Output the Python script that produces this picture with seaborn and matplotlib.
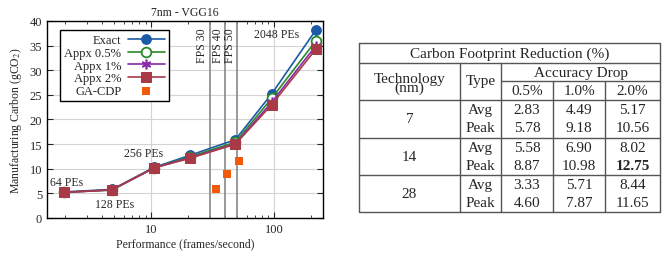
import matplotlib
matplotlib.use('Agg')
import matplotlib.pyplot as plt
import seaborn as sns
import numpy as np
from matplotlib.ticker import LogLocator, FixedFormatter, FixedLocator

# --- chart data ---
fps = [1.95, 4.8, 10.6, 20.5, 48.4, 95.6, 219]
exact = [5.3, 5.8, 10.3, 12.7, 15.9, 25.2, 38.2]
appx_05 = [5.2, 5.7, 10.2, 12.4, 15.4, 24.3, 36.0]
appx_1 = [5.2, 5.7, 10.2, 12.2, 15.1, 23.5, 35.0]
appx_2 = [5.2, 5.7, 10.2, 12.1, 15.0, 23.0, 34.3]
ga_fps = [33.6, 41.5, 52.2]
ga_carbon = [5.8, 8.9, 11.5]
fps_targets = [30, 40, 50]
pe_labels = ['64 PEs', '128 PEs', '256 PEs', '2048 PEs']
pe_label_pos = [(2.05, 7.4), (5.0, 2.9), (8.6, 13.2), (104, 37.4)]

# --- table data ---
tech = ['7', '14', '28']
acc_drop = ['0.5%', '1.0%', '2.0%']
avg_red = [[2.83, 4.49, 5.17], [5.58, 6.90, 8.02], [3.33, 5.71, 8.44]]
peak_red = [[5.78, 9.18, 10.56], [8.87, 10.98, 12.75], [4.60, 7.87, 11.65]]

sns.set_style('ticks')
plt.rcParams['font.family'] = ['Liberation Serif', 'DejaVu Serif']
plt.rcParams['mathtext.fontset'] = 'stix'

W, H = 671, 255
f = plt.figure(figsize=(W / 100, H / 100), dpi=100)
ax = f.add_axes([47 / W, 1 - 219 / H, 276 / W, 197 / H])

ax.grid(True, which='major', color='#d4d4d4', lw=0.8)
ax.set_axisbelow(True)

for xv in fps_targets:
    ax.axvline(xv, color='#888888', lw=1.2, zorder=1)
    ax.text(xv * 0.975, 38.7, 'FPS {}'.format(xv), rotation=90, ha='right',
            va='top', fontsize=8.5)

series = [
    ('Exact', exact, '#1a5aa6', dict(marker='o', markersize=7)),
    ('Appx 0.5%', appx_05, '#2a8a2a', dict(marker='o', markersize=7, markerfacecolor='white',
                                           markeredgewidth=1.3)),
    ('Appx 1%', appx_1, '#8a2aa8', dict(marker=(6, 2, 0), markersize=7, markeredgewidth=1.2)),
    ('Appx 2%', appx_2, '#a83a48', dict(marker='s', markersize=7.5)),
]
for name, vals, col, kw in series:
    sns.lineplot(x=fps, y=vals, ax=ax, color=col, lw=1.2, label=name, zorder=3,
                 markeredgecolor=col, **kw)

sns.scatterplot(x=ga_fps, y=ga_carbon, ax=ax, color='#f05a0a', marker='s', s=40,
                linewidth=0, label='GA-CDP', zorder=4)

for txt, (xx, yy) in zip(pe_labels, pe_label_pos):
    ax.text(xx, yy, txt, fontsize=8.5, ha='center', va='center')

ax.set_xscale('log')
ax.set_xlim(1.42, 250)
ax.set_ylim(0, 40)
ax.set_yticks(range(0, 41, 5))
ax.xaxis.set_major_locator(FixedLocator([10, 100]))
ax.xaxis.set_major_formatter(FixedFormatter(['10', '100']))
ax.xaxis.set_minor_locator(LogLocator(base=10, subs=np.arange(2, 10)))
ax.xaxis.set_minor_formatter(FixedFormatter([]))
ax.tick_params(which='both', direction='in', top=True, right=True, labelsize=9, length=4)
ax.tick_params(which='minor', length=2)
for sp in ax.spines.values():
    sp.set_color('black')
    sp.set_linewidth(1.0)
ax.set_title('7nm - VGG16', fontsize=8.5, pad=4)
ax.set_xlabel('Performance (frames/second)', fontsize=8.5, labelpad=2)
ax.set_ylabel('Manufacturing Carbon (gCO$_2$)', fontsize=8.5, labelpad=4)

leg = ax.legend(loc='upper left', bbox_to_anchor=(0.047, 0.954), borderaxespad=0,
                markerfirst=False, fancybox=False, edgecolor='black', fontsize=9,
                handlelength=3.0, handletextpad=0.5, borderpad=0.35, labelspacing=0.05,
                framealpha=1, markerscale=1.0)
leg.get_frame().set_linewidth(1.0)
for t in leg.get_texts():
    t.set_ha('right')
leg._legend_box.align = 'right'

# --- table drawn in pixel coordinates ---
tx = f.add_axes([0, 0, 1, 1])
tx.set_xlim(0, W)
tx.set_ylim(H, 0)
tx.axis('off')
L, R, T, B = 359, 660, 44, 213
c1, c2 = 460, 501
cols = [501, 553, 605, 660]
r_title, r_acc, r_head = 63.5, 82, 101
r_groups = [101, 138.5, 176, 213]
lc = dict(color='#555555', lw=1.0)
tx.plot([L, R, R, L, L], [T, T, B, B, T], **lc)
tx.plot([L, R], [r_title, r_title], **lc)
tx.plot([L, R], [r_head, r_head], **lc)
tx.plot([c2, R], [r_acc, r_acc], **lc)
for yy in r_groups[1:3]:
    tx.plot([L, R], [yy, yy], **lc)
tx.plot([c1, c1], [r_title, B], **lc)
tx.plot([c2, c2], [r_title, B], **lc)
for xx in cols[1:3]:
    tx.plot([xx, xx], [r_acc, B], **lc)

fs = 11
tx.text((L + R) / 2, (T + r_title) / 2 + 0.5, 'Carbon Footprint Reduction (%)', ha='center', va='center', fontsize=fs)
tx.text((L + c1) / 2, 80, 'Technology', ha='center', va='center', fontsize=fs)
tx.text((L + c1) / 2, 88, '(nm)', ha='center', va='center', fontsize=fs)
tx.text((c1 + c2) / 2, 82, 'Type', ha='center', va='center', fontsize=fs)
tx.text((c2 + R) / 2, (r_title + r_acc) / 2 + 0.5, 'Accuracy Drop', ha='center', va='center', fontsize=fs)
for j, a in enumerate(acc_drop):
    tx.text((cols[j] + cols[j + 1]) / 2, (r_acc + r_head) / 2 + 0.5, a, ha='center', va='center', fontsize=fs)

best = max(max(r) for r in peak_red)
for i, t in enumerate(tech):
    top, bot = r_groups[i], r_groups[i + 1]
    mid = (top + bot) / 2
    y_avg, y_peak = mid - 9, mid + 9
    tx.text((L + c1) / 2, mid, t, ha='center', va='center', fontsize=fs)
    tx.text((c1 + c2) / 2, y_avg, 'Avg', ha='center', va='center', fontsize=fs)
    tx.text((c1 + c2) / 2, y_peak, 'Peak', ha='center', va='center', fontsize=fs)
    for j in range(3):
        cx = (cols[j] + cols[j + 1]) / 2
        tx.text(cx, y_avg, '{:.2f}'.format(avg_red[i][j]), ha='center', va='center', fontsize=fs)
        pv = peak_red[i][j]
        tx.text(cx, y_peak, '{:.2f}'.format(pv), ha='center', va='center', fontsize=fs,
                fontweight='bold' if pv == best else 'normal')

f.savefig('out.png', dpi=100)
